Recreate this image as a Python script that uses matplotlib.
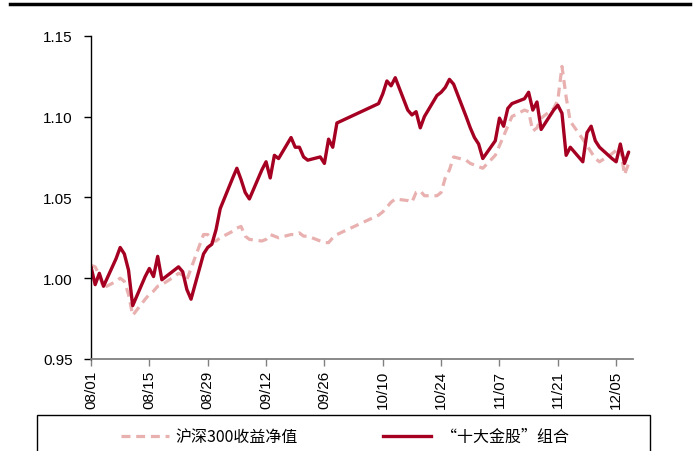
import matplotlib
matplotlib.use("Agg")
import matplotlib.pyplot as plt
import matplotlib.ticker as mticker
from matplotlib.lines import Line2D
from matplotlib.patches import Rectangle
import pandas as pd

plt.rcParams['font.family'] = ['Liberation Sans', 'DejaVu Sans']

# trading days (2017), month -> days
aug_days = [1, 2, 3, 4, 7, 8, 9, 10, 11, 14, 15, 16, 17, 18, 21, 22, 23, 24, 25, 28, 29, 30, 31]
sep_days = [1, 4, 5, 6, 7, 8, 11, 12, 13, 14, 15, 18, 19, 20, 21, 22, 25, 26, 27, 28, 29]
oct_days = [9, 10, 11, 12, 13, 16, 17, 18, 19, 20, 23, 24, 25, 26, 27, 30, 31]
nov_days = [1, 2, 3, 6, 7, 8, 9, 10, 13, 14, 15, 16, 17, 20, 21, 22, 23, 24, 27, 28, 29, 30]
dec_days = [1, 4, 5, 6, 7, 8]

# 沪深300收益净值
hs300 = [1.008, 1.007, 1.002, 0.994, 0.998, 1.000, 0.998, 0.990, 0.977, 0.987, 0.990, 0.992,
         0.995, 0.996, 1.001, 1.003, 1.002, 0.999, 1.006, 1.027, 1.027, 1.023, 1.023,
         1.025, 1.029, 1.031, 1.032, 1.026, 1.024, 1.023, 1.024, 1.027, 1.026, 1.025, 1.027,
         1.027, 1.028, 1.026, 1.026, 1.023, 1.022, 1.022, 1.025, 1.027,
         1.039, 1.041, 1.044, 1.047, 1.049, 1.048, 1.047, 1.053, 1.054, 1.051, 1.051, 1.053,
         1.062, 1.067, 1.075, 1.073, 1.071,
         1.070, 1.069, 1.068, 1.076, 1.082, 1.088, 1.094, 1.100, 1.104, 1.103, 1.091, 1.093,
         1.099, 1.105, 1.110, 1.131, 1.112, 1.097, 1.086, 1.082, 1.078, 1.074,
         1.072, 1.077, 1.079, 1.081, 1.064, 1.071]

# “十大金股”组合
top10 = [1.007, 0.996, 1.003, 0.995, 1.012, 1.019, 1.015, 1.005, 0.983, 1.001, 1.006, 1.001,
         1.0135, 0.999, 1.005, 1.007, 1.004, 0.993, 0.987, 1.015, 1.019, 1.021, 1.030,
         1.043, 1.062, 1.068, 1.061, 1.053, 1.049, 1.067, 1.072, 1.062, 1.076, 1.074, 1.087,
         1.081, 1.081, 1.075, 1.073, 1.075, 1.071, 1.086, 1.081, 1.096,
         1.108, 1.114, 1.122, 1.119, 1.124, 1.104, 1.101, 1.103, 1.093, 1.100, 1.113, 1.115,
         1.118, 1.123, 1.120, 1.100, 1.093,
         1.087, 1.083, 1.074, 1.085, 1.099, 1.094, 1.105, 1.108, 1.111, 1.115, 1.104, 1.109,
         1.092, 1.104, 1.107, 1.102, 1.076, 1.081, 1.072, 1.090, 1.094, 1.085,
         1.081, 1.074, 1.072, 1.083, 1.071, 1.078]

tick_labels = ['08/01', '08/15', '08/29', '09/12', '09/26', '10/10', '10/24', '11/07', '11/21', '12/05']

dates = []
for m, days in [(8, aug_days), (9, sep_days), (10, oct_days), (11, nov_days), (12, dec_days)]:
    dates += [pd.Timestamp(2017, m, d) for d in days]

W, H = 699, 452
fig = plt.figure(figsize=(W / 100, H / 100), dpi=100)


def px(x, y):
    return x / W, 1 - y / H


ax = fig.add_axes([91 / W, 1 - 360 / H, (633 - 91) / W, (360 - 36.7) / H])

red = '#A50021'
pink = '#E9B0B0'
ax.plot(dates, hs300, color=pink, lw=2.3, dashes=(2.8, 1.8))
ax.plot(dates, top10, color=red, lw=2.4, solid_joinstyle='round', solid_capstyle='round')

ax.set_ylim(0.95, 1.15)
ax.yaxis.set_major_locator(mticker.MultipleLocator(0.05))
ax.yaxis.set_major_formatter(mticker.FormatStrFormatter('%.2f'))

tick_dates = [pd.Timestamp(2017, int(t[:2]), int(t[3:])) for t in tick_labels]
ax.set_xlim(pd.Timestamp(2017, 8, 1), pd.Timestamp(2017, 12, 9, 1))
ax.set_xticks(tick_dates)
ax.set_xticklabels(tick_labels, rotation=90, fontsize=11)
ax.tick_params(axis='y', labelsize=11, length=5, width=1, color='black', pad=8)
ax.tick_params(axis='x', length=5, width=1, color='#808080', pad=3)

for s in ['top', 'right']:
    ax.spines[s].set_visible(False)
ax.spines['left'].set_color('black')
ax.spines['left'].set_linewidth(1)
ax.spines['bottom'].set_color('#808080')
ax.spines['bottom'].set_linewidth(1.3)

# top rule
x0, y0 = px(10, 5)
x1, _ = px(690, 5)
fig.add_artist(Line2D([x0, x1], [y0, y0], color='black', lw=2.5))

# legend box
bx, by = px(36.5, 460)
bw = (650 - 36.5) / W
bh = (460 - 416) / H
fig.add_artist(Rectangle((bx, by), bw, bh, fill=False, edgecolor='black', lw=1))

cjk = ['Noto Sans CJK SC', 'DejaVu Sans']
ly = 437
a, b = px(121, ly)
c, _ = px(169, ly)
fig.add_artist(Line2D([a, c], [b, b], color=pink, lw=2.3, dashes=(2.8, 1.8)))
tx, ty = px(175, ly)
fig.text(tx, ty, '沪深300收益净值', family=cjk, fontsize=11.5, va='center', ha='left')

a, b = px(383, ly)
c, _ = px(431, ly)
fig.add_artist(Line2D([a, c], [b, b], color=red, lw=2.4))
tx, ty = px(441, ly)
fig.text(tx, ty, '“十大金股”组合', family=cjk, fontsize=11.5, va='center', ha='left')

fig.savefig('out.png', dpi=100)
